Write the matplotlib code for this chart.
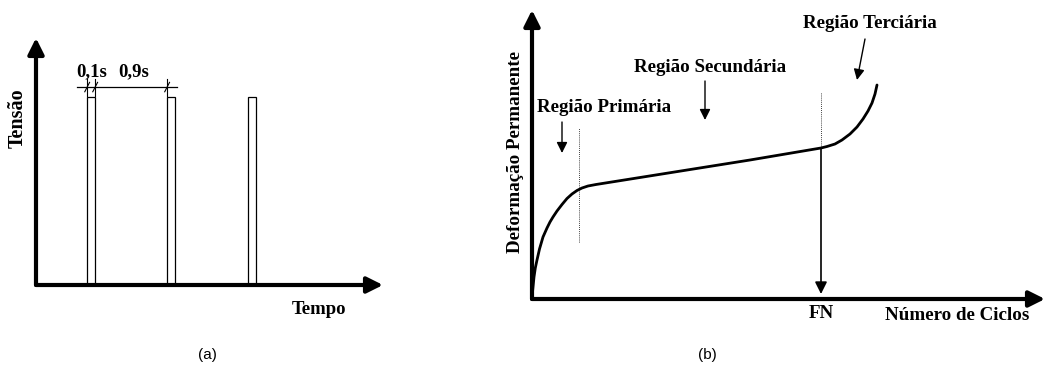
import matplotlib.pyplot as plt
from matplotlib.patches import Rectangle

# (a) pulsos de carga
inicio_pulsos = [0.64, 1.64, 2.65]   # s
duracao_pulso = 0.1                  # s
repouso = 0.9                        # s
tensao_pulso = 1.0

# (b) curva de deformação permanente x número de ciclos
ciclos = [0, 0.3, 1, 2, 3.3, 5, 7.5, 11, 15, 18, 21, 25, 30, 35, 40, 45,
          50, 56, 64, 218, 289, 295, 303, 310, 318, 325, 331, 336, 340,
          343, 345]
deformacao = [0, 5, 12, 22, 31, 39, 50, 62, 71, 77, 82, 88, 94.5, 100.5,
              105, 108.5, 111, 113, 114.5, 139, 151, 152.5, 155, 159, 165,
              172, 180, 188, 196, 205, 214]
x_primaria = 47
x_fn = 289

W, H = 1047, 370
plt.rcParams['font.family'] = ['Liberation Serif', 'DejaVu Serif']

fig = plt.figure(figsize=(W / 100, H / 100), dpi=100)


def px(x, y):
    return x / W, 1 - y / H


seta = dict(arrowstyle='-|>', color='black', lw=3, mutation_scale=24,
            shrinkA=0, shrinkB=0)

# ---------- (a) ----------
ax1 = fig.add_axes([36 / W, (H - 285) / H, 347 / W, 247 / H])
ax1.set_xlim(0, 4.34)
ax1.set_ylim(0, 1.314)
ax1.axis('off')

ax1.annotate('', xy=(4.34, 0), xytext=(0, 0), arrowprops=seta,
             annotation_clip=False)
ax1.annotate('', xy=(0, 1.314), xytext=(0, 0), arrowprops=seta,
             annotation_clip=False)

for t0 in inicio_pulsos:
    ax1.add_patch(Rectangle((t0, 0), duracao_pulso, tensao_pulso,
                            fill=False, lw=0.9, ec='black'))

# cotas 0,1s e 0,9s
y_cota = 1.053
t0 = inicio_pulsos[0]
t1 = t0 + duracao_pulso
t2 = t1 + repouso
ax1.plot([0.51, 1.76], [y_cota, y_cota], color='black', lw=0.9,
         clip_on=False)
for t in (t0, t1, t2):
    ax1.plot([t - 0.03, t + 0.03], [y_cota - 0.025, y_cota + 0.025],
             color='black', lw=0.8, clip_on=False)
    ax1.plot([t, t], [y_cota - 0.045, y_cota + 0.045],
             color='black', lw=0.8, clip_on=False)

fig.text(*px(92, 72), f'{duracao_pulso:.1f}s'.replace('.', ','),
         ha='center', va='center', fontsize=13.5, fontweight='bold')
fig.text(*px(134, 72), f'{repouso:.1f}s'.replace('.', ','),
         ha='center', va='center', fontsize=13.5, fontweight='bold')
fig.text(*px(18, 118), 'Tensão', rotation=90, ha='center', va='center',
         fontsize=14.5, fontweight='bold')
fig.text(*px(319, 310), 'Tempo', ha='center', va='center',
         fontsize=13.5, fontweight='bold')
fig.text(*px(207, 355), '(a)', ha='center', va='center', fontsize=11,
         family='Liberation Sans')

# ---------- (b) ----------
ax2 = fig.add_axes([532 / W, (H - 299) / H, 513 / W, 289 / H])
ax2.set_xlim(0, 513)
ax2.set_ylim(0, 289)
ax2.axis('off')

ax2.annotate('', xy=(513, 0), xytext=(0, 0), arrowprops=seta,
             annotation_clip=False)
ax2.annotate('', xy=(0, 289), xytext=(0, 0), arrowprops=seta,
             annotation_clip=False)

ax2.plot(ciclos, deformacao, color='black', lw=2, solid_capstyle='round',
         solid_joinstyle='round', clip_on=False)

# limites das regiões
ax2.plot([x_primaria, x_primaria], [57, 171], color='black', lw=0.6,
         ls=(0, (1, 1.5)))
ax2.plot([x_fn, x_fn], [151, 206], color='black', lw=0.6, ls=(0, (1, 1.5)))
ax2.annotate('', xy=(x_fn, 5), xytext=(x_fn, 151),
             arrowprops=dict(arrowstyle='-|>', color='black', lw=1.2,
                             mutation_scale=18, shrinkA=0, shrinkB=0))

seta_fina = dict(arrowstyle='-|>', color='black', lw=1, mutation_scale=16,
                 shrinkA=0, shrinkB=0)


def seta_fig(x0, y0, x1, y1):
    ax2.annotate('', xy=px(x1, y1), xytext=px(x0, y0),
                 xycoords='figure fraction', textcoords='figure fraction',
                 arrowprops=seta_fina, annotation_clip=False)


fig.text(*px(604, 108), 'Região Primária', ha='center', va='center',
         fontsize=13.7, fontweight='bold')
seta_fig(562, 122, 562, 153)
fig.text(*px(710, 68), 'Região Secundária', ha='center', va='center',
         fontsize=13.7, fontweight='bold')
seta_fig(705, 81, 705, 120)
fig.text(*px(870, 24), 'Região Terciária', ha='center', va='center',
         fontsize=13.7, fontweight='bold')
seta_fig(865, 39, 857, 80)

fig.text(*px(515, 152), 'Deformação Permanente', rotation=90, ha='center',
         va='center', fontsize=13.7, fontweight='bold')
fig.text(*px(821, 314), 'FN', ha='center', va='center', fontsize=13.7,
         fontweight='bold')
fig.text(*px(957, 315), 'Número de Ciclos', ha='center', va='center',
         fontsize=13.7, fontweight='bold')
fig.text(*px(707, 355), '(b)', ha='center', va='center', fontsize=11,
         family='Liberation Sans')

fig.savefig('out.png', dpi=100, facecolor='white')
